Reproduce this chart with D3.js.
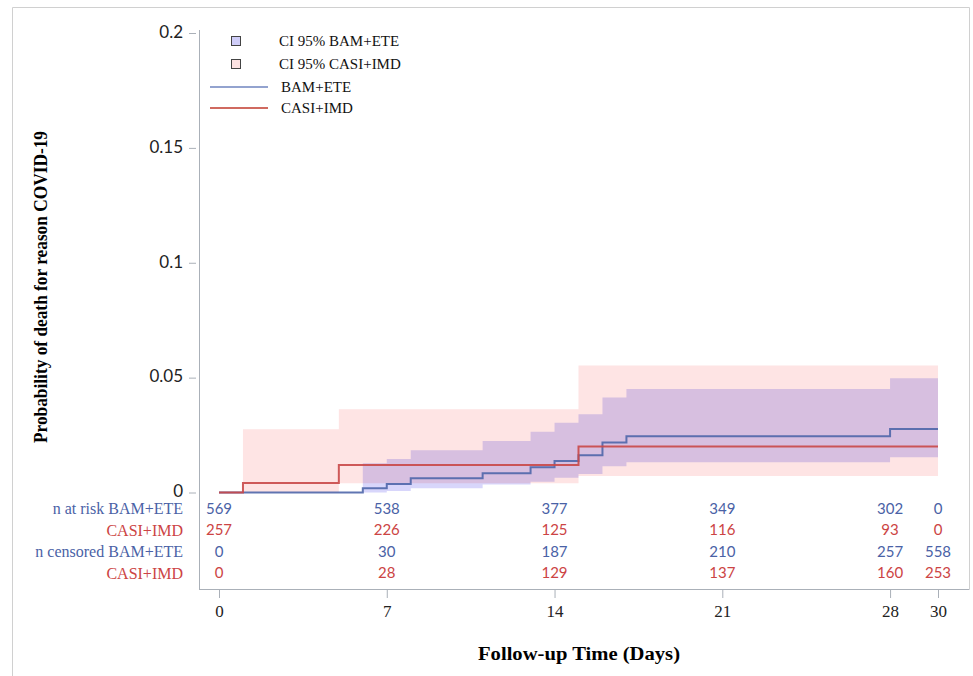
<!DOCTYPE html>
<html>
<head>
<meta charset="utf-8">
<script src="https://cdn.jsdelivr.net/npm/d3@7"></script>
<style>
  body { margin: 0; background: #fff; }
  svg { display: block; }
</style>
</head>
<body>
<div class="chartContainer"></div>
<script>
// Kaplan-Meier style cumulative incidence
const bamTimes = [0, 6, 7, 8, 11, 13, 14, 15, 16, 17, 28, 30]
const bamEst   = [0, 0.0019, 0.0037, 0.0062, 0.0084, 0.011, 0.0137, 0.0162, 0.0218, 0.0245, 0.0276, 0.0276]
const bamCiTimes = [6, 7, 8, 11, 13, 14, 15, 16, 17, 28, 30]
const bamLower   = [0, 0.0007, 0.0018, 0.0035, 0.0047, 0.0064, 0.008, 0.0114, 0.0132, 0.0153, 0.0153]
const bamUpper   = [0.0127, 0.0146, 0.0184, 0.0224, 0.0264, 0.0304, 0.0341, 0.0414, 0.045, 0.0497, 0.0497]

const casiTimes = [0, 1, 5, 15, 30]
const casiEst   = [0, 0.0041, 0.012, 0.02, 0.02]
const casiCiTimes = [1, 5, 15, 30]
const casiLower   = [0, 0.004, 0.0072, 0.0072]
const casiUpper   = [0.0275, 0.0362, 0.0553, 0.0553]

// risk table
const tableTimes = [0, 7, 14, 21, 28, 30]
const atRiskBam  = [569, 538, 377, 349, 302, 0]
const atRiskCasi = [257, 226, 125, 116, 93, 0]
const censBam    = [0, 30, 187, 210, 257, 558]
const censCasi   = [0, 28, 129, 137, 160, 253]

const yTicks = [0, 0.05, 0.1, 0.15, 0.2]
const xTicks = [0, 7, 14, 21, 28, 30]

const blue = "#4a62a6", red = "#cc4444"
const serif = "'Liberation Serif', 'DejaVu Serif', serif"
const sans = "Lato, 'Liberation Sans', sans-serif"

const svg = d3.select(".chartContainer").append("svg")
  .attr("width", 973).attr("height", 676)

// outer frame
svg.append("path")
  .attr("d", "M12.5,680 V7.5 H969.5 V589")
  .attr("fill", "none").attr("stroke", "#d0d0d0").attr("stroke-width", 1)

const x = d3.scaleLinear().domain([0, 30]).range([219, 938])
const y = d3.scaleLinear().domain([0, 0.2]).range([492.5, 33])

// bands
const zip = (t, a, b) => t.map((d, i) => ({t: d, lo: a[i], hi: b[i]}))
const area = d3.area().curve(d3.curveStepAfter)
  .x(d => x(d.t)).y0(d => y(d.lo)).y1(d => y(d.hi))

const bands = svg.append("g").style("isolation", "isolate")
bands.append("path").datum(zip(casiCiTimes, casiLower, casiUpper))
  .attr("d", area).attr("fill", "#fee4e4")
bands.append("path").datum(zip(bamCiTimes, bamLower, bamUpper))
  .attr("d", area).attr("fill", "#d8d6fb").style("mix-blend-mode", "multiply")

// step lines
const line = d3.line().curve(d3.curveStepAfter).x(d => x(d[0])).y(d => y(d[1]))
svg.append("path").datum(d3.zip(bamTimes, bamEst))
  .attr("d", line).attr("fill", "none").attr("stroke", "#4f66aa").attr("stroke-width", 2).attr("stroke-opacity", 0.9)
svg.append("path").datum(d3.zip(casiTimes, casiEst))
  .attr("d", line).attr("fill", "none").attr("stroke", "#c94848").attr("stroke-width", 2).attr("stroke-opacity", 0.9)

// axes
const axisColor = "#aab0b8"
const yAxis = d3.axisLeft(y).tickValues(yTicks).tickFormat(d3.format("~g")).tickSize(7).tickPadding(6)
const gy = svg.append("g").attr("transform", "translate(196,0)").call(yAxis)
gy.select(".domain").remove()
gy.selectAll("line").attr("stroke", axisColor)
gy.selectAll("text").attr("font-family", sans).attr("font-size", 17).attr("fill", "#222")
  .attr("dy", "0.25em")

const xAxis = d3.axisBottom(x).tickValues(xTicks).tickSize(9).tickPadding(7)
const gx = svg.append("g").attr("transform", "translate(0,589)").call(xAxis)
gx.select(".domain").remove()
gx.selectAll("line").attr("stroke", axisColor)
gx.selectAll("text").attr("font-family", serif).attr("font-size", 17).attr("fill", "#222")

svg.append("line").attr("x1", 199.5).attr("x2", 199.5).attr("y1", 30).attr("y2", 589)
  .attr("stroke", axisColor)
svg.append("line").attr("x1", 199).attr("x2", 969.5).attr("y1", 589.5).attr("y2", 589.5)
  .attr("stroke", axisColor)

// axis titles
svg.append("text")
  .attr("transform", "translate(47,287) rotate(-90)")
  .attr("text-anchor", "middle")
  .attr("font-family", serif).attr("font-weight", "bold").attr("font-size", 18)
  .attr("textLength", 312).attr("lengthAdjust", "spacingAndGlyphs")
  .text("Probability of death for reason COVID-19")
svg.append("text")
  .attr("x", 579).attr("y", 660)
  .attr("text-anchor", "middle")
  .attr("font-family", serif).attr("font-weight", "bold").attr("font-size", 18)
  .attr("textLength", 202).attr("lengthAdjust", "spacingAndGlyphs")
  .text("Follow-up Time (Days)")

// risk table
const rows = [
  {label: "n at risk BAM+ETE", vals: atRiskBam, color: blue},
  {label: "CASI+IMD", vals: atRiskCasi, color: red},
  {label: "n censored BAM+ETE", vals: censBam, color: blue},
  {label: "CASI+IMD", vals: censCasi, color: red}
]
const rowY = d3.scalePoint().domain(d3.range(rows.length)).range([508.5, 573])
rows.forEach((r, i) => {
  svg.append("text")
    .attr("x", 183).attr("y", rowY(i)).attr("dy", "0.35em")
    .attr("text-anchor", "end")
    .attr("font-family", serif).attr("font-size", 16).attr("fill", r.color)
    .text(r.label)
  svg.selectAll(null).data(r.vals).enter().append("text")
    .attr("x", (d, j) => x(tableTimes[j])).attr("y", rowY(i)).attr("dy", "0.35em")
    .attr("text-anchor", "middle")
    .attr("font-family", sans).attr("font-size", 15).attr("fill", r.color)
    .text(d => d)
})

// legend
const legend = svg.append("g").attr("font-family", serif).attr("font-size", 15).attr("fill", "#111")
const boxes = [{label: "CI 95% BAM+ETE", fill: "#cfcdf8", y: 41}, {label: "CI 95% CASI+IMD", fill: "#fde2e2", y: 64}]
boxes.forEach(b => {
  legend.append("rect").attr("x", 231.5).attr("y", b.y - 4.5).attr("width", 9).attr("height", 9)
    .attr("fill", b.fill).attr("stroke", "#444")
  legend.append("text").attr("x", 279).attr("y", b.y).attr("dy", "0.35em").text(b.label)
})
const lines = [{label: "BAM+ETE", color: "#6f84bf", y: 87}, {label: "CASI+IMD", color: "#c0392b", y: 108}]
lines.forEach(l => {
  legend.append("line").attr("x1", 210).attr("x2", 268).attr("y1", l.y).attr("y2", l.y)
    .attr("stroke", l.color).attr("stroke-width", 1.5)
  legend.append("text").attr("x", 281).attr("y", l.y).attr("dy", "0.35em").text(l.label)
})
</script>
</body>
</html>
